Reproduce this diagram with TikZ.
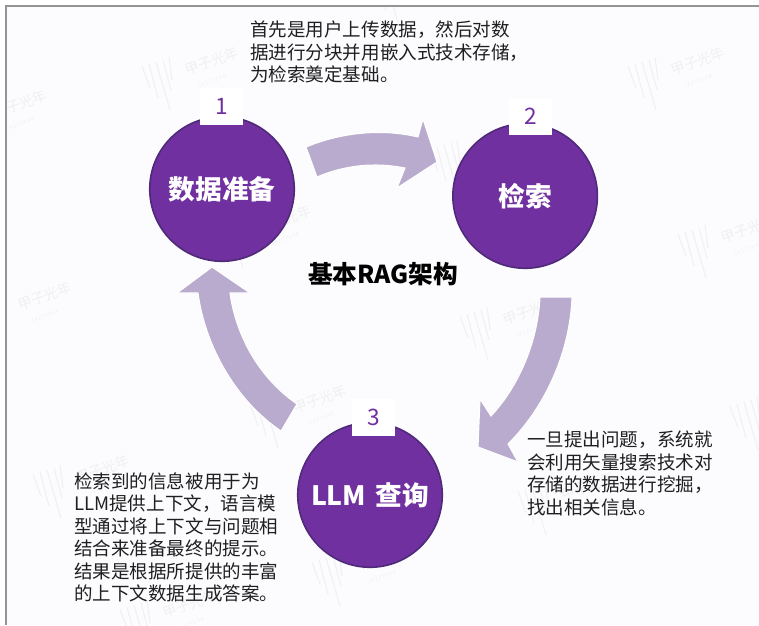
\documentclass[tikz,border=0pt]{standalone}
\usepackage{fontspec}
\setmainfont{Noto Sans CJK SC}
\usepackage{xcolor}
\usepackage{tikz}
\usetikzlibrary{positioning}

\definecolor{stagepurple}{HTML}{7030A0}
\definecolor{stageedge}{HTML}{4F2A78}
\definecolor{flowlilac}{HTML}{B9ABCD}
\definecolor{pagetint}{HTML}{FCFBFE}
\definecolor{stampgray}{HTML}{F0F0F2}

\tikzset{
    pics/stamp/.style={code={
        \foreach \xa/\ya/\xb/\yb in {0/9/8/31, 7/7/16/41, 14/5/28/53, 21/3/29/33, 27/0/30/23}
            \draw[stampline] (\xa,\ya) -- (\xb,\yb);
        \node[stampword] (-word) at (70,4) {甲子光年};
        \node[stampsub] (-sub) at (70,24) {J A Z Z Y E A R};
    }},
    stampline/.style={stampgray, line width=0.8pt},
    stampword/.style={stampgray, rotate=20, inner sep=0pt, font=\fontsize{10.5}{11}\selectfont},
    stampsub/.style={stampgray, rotate=20, inner sep=0pt, font=\fontsize{3.5}{4}\selectfont}
}

\begin{document}
\begin{tikzpicture}[
        x=0.75pt, y=-0.75pt,
        stage/.style={draw=stageedge, line width=1.2pt, fill=stagepurple, circle, minimum size=108.4pt, inner sep=0pt, text=white, font=\fontsize{20}{22}\selectfont\bfseries},
        tag/.style={fill=white, minimum width=32.25pt, minimum height=27.75pt, inner sep=0pt, text=stagepurple, font=\fontsize{17}{20}\selectfont},
        note/.style={align=left, inner sep=0pt, text=black!88, font=\fontsize{13.9}{16.8}\selectfont},
        flow/.style={fill=flowlilac, draw=white, line width=0.8pt}
    ]
        \useasboundingbox (0,0) rectangle (759,625);

        % Page
        \fill[white] (0,0) rectangle (759,625);
        \fill[pagetint] (6,6) rectangle (759,625);
        \draw[black!42, line width=1pt] (6,625) -- (6,6) -- (759,6);

        % Watermark
        \begin{scope}
            \clip (7,7) rectangle (759,625);
            \foreach \px/\py [count=\i] in {142/57, 628/57, 678/225, 460/307, 430/140, 250/395, 33/465, 312/553, 120/600, 730/397, 518/482, 215/215, 370/-30, -50/100, -25/292}
                \pic (stamp\i) at (\px,\py) {stamp};
        \end{scope}

        % Nodes
        \node[stage] (data) at (222,189) {数据准备};
        \node[stage, right=117.75pt of data, yshift=-5.25pt] (search) {检索};
        \node[stage] (query) at (370,495) {LLM\hspace{0.35em}查询};

        \node[tag, xshift=-0.4pt, yshift=7.1pt] (tagone) at (data.north) {1};
        \node[tag, xshift=4.1pt, yshift=4.9pt] (tagtwo) at (search.north) {2};
        \node[tag, xshift=2.6pt, yshift=3.4pt] (tagthree) at (query.north) {3};

        \node[font=\fontsize{18.5}{20}\selectfont\bfseries, inner sep=0pt] (title) at (383,274) {基本RAG架构};

        \node[note, anchor=west] (noteone) at (250,52) {首先是用户上传数据，然后对数\\据进行分块并用嵌入式技术存储，\\为检索奠定基础。};
        \node[note, anchor=west] (notetwo) at (527,473.5) {一旦提出问题，系统就\\会利用矢量搜索技术对\\存储的数据进行挖掘，\\找出相关信息。};
        \node[note, anchor=west] (notethree) at (74,537.5) {检索到的信息被用于为\\LLM提供上下文，语言模\\型通过将上下文与问题相\\结合来准备最终的提示。\\结果是根据所提供的丰富\\的上下文数据生成答案。};

        % Arrows
        \draw[flow] (306,147) .. controls (340,133) and (380,128) .. (418,137) -- (423,119) -- (437,162) -- (397,188) -- (405,168) .. controls (375,162) and (345,165) .. (317,177) -- cycle;
        \draw[flow] (572,297) .. controls (570,350) and (547,405) .. (508,444) -- (518,462) -- (478,447) -- (480,399) -- (491,416) .. controls (520,385) and (538,340) .. (540,297) -- cycle;
        \draw[flow] (281,431) .. controls (235,400) and (205,345) .. (198,293) -- (177,293) -- (212,267) -- (250,293) -- (230,293) .. controls (235,330) and (255,375) .. (297,404) -- cycle;
\end{tikzpicture}
\end{document}
